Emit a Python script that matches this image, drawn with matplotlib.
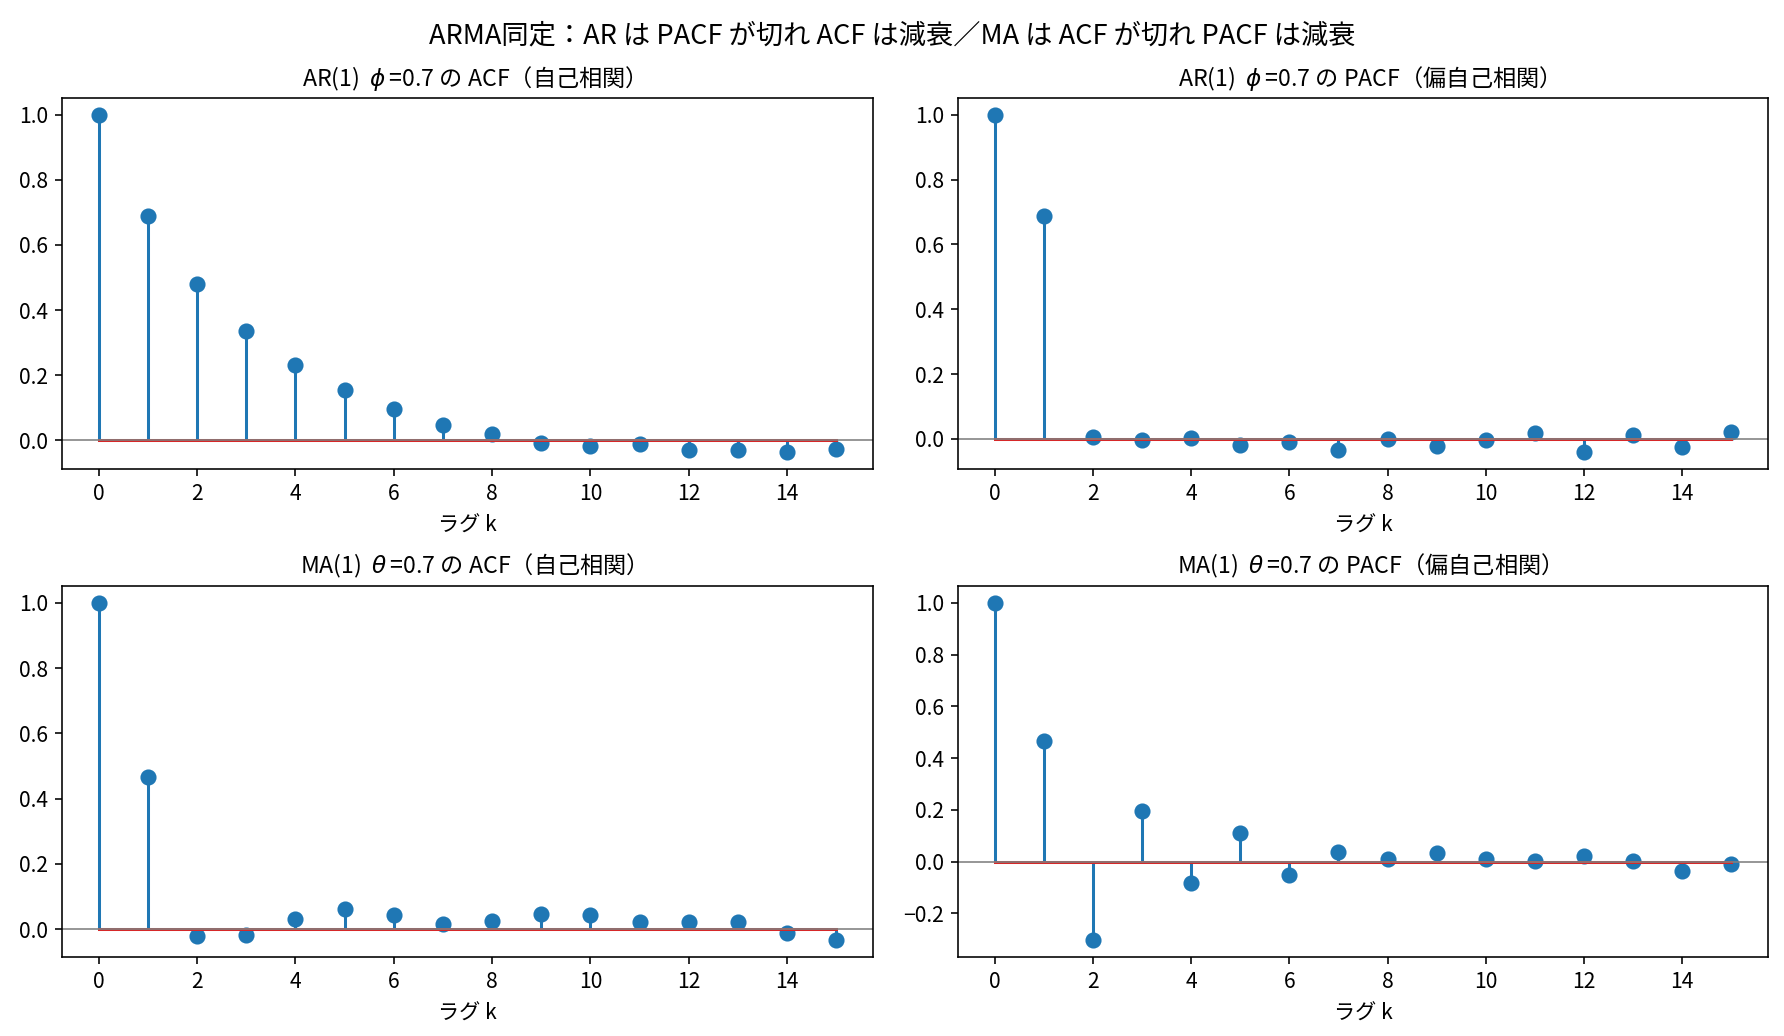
import matplotlib
matplotlib.use("Agg")
import matplotlib.pyplot as plt
import numpy as np

plt.rcParams['font.family'] = ['Noto Sans CJK JP', 'DejaVu Sans']
plt.rcParams['axes.unicode_minus'] = True
plt.rcParams['xtick.labelsize'] = 10.5
plt.rcParams['ytick.labelsize'] = 10.5
plt.rcParams['axes.labelsize'] = 10.5

lags = list(range(16))

ar_acf = [1.0, 0.690, 0.480, 0.334, 0.232, 0.155, 0.096, 0.046, 0.018,
          -0.008, -0.019, -0.012, -0.031, -0.031, -0.037, -0.028]
ar_pacf = [1.0, 0.689, 0.006, -0.004, 0.002, -0.018, -0.011, -0.033, -0.001,
           -0.021, -0.002, 0.019, -0.041, 0.013, -0.026, 0.022]
ma_acf = [1.0, 0.465, -0.022, -0.019, 0.031, 0.062, 0.044, 0.015, 0.024,
          0.046, 0.043, 0.023, 0.021, 0.023, -0.012, -0.034]
ma_pacf = [1.0, 0.467, -0.303, 0.196, -0.083, 0.109, -0.051, 0.039, 0.009,
           0.035, 0.009, 0.004, 0.022, 0.001, -0.035, -0.008]

titles = [
    r"AR(1)  $\phi\,$=0.7 の ACF（自己相関）",
    r"AR(1)  $\phi\,$=0.7 の PACF（偏自己相関）",
    r"MA(1)  $\theta\,$=0.7 の ACF（自己相関）",
    r"MA(1)  $\theta\,$=0.7 の PACF（偏自己相関）",
]
suptitle = "ARMA同定：AR は PACF が切れ ACF は減衰／MA は ACF が切れ PACF は減衰"
xlabel = "ラグ k"

W, H = 1784, 1036
dpi = 145
fig = plt.figure(figsize=(W / dpi, H / dpi), dpi=dpi)

boxes = [
    (62, 98, 873, 469),
    (958, 98, 1768, 469),
    (62, 586, 873, 957),
    (958, 586, 1768, 957),
]
series = [ar_acf, ar_pacf, ma_acf, ma_pacf]

for (l, t, r, b), vals, title in zip(boxes, series, titles):
    ax = fig.add_axes([l / W, 1 - b / H, (r - l) / W, (b - t) / H])
    ml, sl, bl = ax.stem(lags, vals)
    plt.setp(ml, markersize=7)
    ax.axhline(0, color='gray', linewidth=0.8)
    ax.set_title(title, fontsize=11.5)
    ax.set_xlabel(xlabel, labelpad=5)

fig.suptitle(suptitle, fontsize=13.5, y=0.978)
fig.savefig("out.png", dpi=dpi)
